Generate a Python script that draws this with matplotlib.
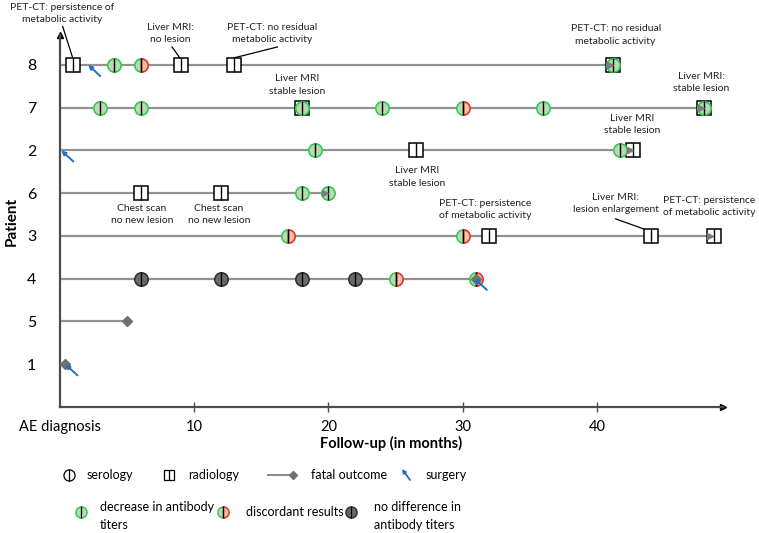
import numpy as np
import matplotlib
matplotlib.use("Agg")
import matplotlib.pyplot as plt
from matplotlib.path import Path

plt.rcParams['font.family'] = ['Lato', 'DejaVu Sans']

# patients, top to bottom, and the y position of each row
patients = [8, 7, 2, 6, 3, 4, 5, 1]
row_y = {8: 8, 7: 7, 2: 6, 6: 5, 3: 4, 4: 3, 5: 2, 1: 1}
# follow-up length (months) of each patient row
follow_end = [41.2, 48, 42.7, 20, 48.7, 31, 5, 0]

# radiology exams
radio_x = [1, 9, 13, 41.2, 18, 48, 26.5, 42.7, 6, 12, 32, 44, 48.7]
radio_p = [8, 8, 8, 8, 7, 7, 2, 2, 6, 6, 3, 3, 3]
# serology: decrease in antibody titers
decr_x = [4, 41.2, 3, 6, 18, 24, 36, 48, 19, 41.7, 18, 20]
decr_p = [8, 8, 7, 7, 7, 7, 7, 7, 2, 2, 6, 6]
# serology: discordant results
disc_x = [6, 30, 17, 30, 25, 31]
disc_p = [8, 7, 3, 3, 4, 4]
# serology: no difference
nodiff_x = [6, 12, 18, 22]
nodiff_p = [4, 4, 4, 4]
# fatal outcome
fatal_x = [31, 5, 0.4]
fatal_p = [4, 5, 1]
# surgery
surg_x = [2.1, 0.1, 30.9, 0.4]
surg_p = [8, 2, 4, 1]

# annotations: text, x, y, optional leader line
notes = [
    ("PET-CT: persistence of\nmetabolic activity", 0.2, 9.2, (0.2, 8.9, 0.97, 8.14)),
    ("Liver MRI:\nno lesion", 8.2, 8.73, (8.35, 8.42, 8.94, 8.16)),
    ("PET-CT: no residual\nmetabolic activity", 15.8, 8.73, (16.2, 8.42, 12.9, 8.16)),
    ("PET-CT: no residual\nmetabolic activity", 41.4, 8.70, None),
    ("Liver MRI\nstable lesion", 17.7, 7.53, None),
    ("Liver MRI:\nstable lesion", 47.8, 7.58, None),
    ("Liver MRI\nstable lesion", 42.6, 6.6, None),
    ("Liver MRI\nstable lesion", 26.6, 5.38, None),
    ("Chest scan\nno new lesion", 6.1, 4.51, None),
    ("Chest scan\nno new lesion", 11.85, 4.51, None),
    ("PET-CT: persistence\nof metabolic activity", 31.7, 4.61, None),
    ("Liver MRI:\nlesion enlargement", 41.4, 4.75, (41.4, 4.40, 43.7, 4.14)),
    ("PET-CT: persistence\nof metabolic activity", 48.35, 4.68, None),
]

GREEN_FC = '#bcd9b0'
GREEN_EC = '#2ecc55'
RED_EC = '#e8302a'
ORANGE_FC = '#efc4a6'
GRAY_FC = '#6a6a6a'
BLUE = '#1f6fc5'
LINE = '#929292'
AX = '#4d4d4d'


def half(a, b):
    arc = Path.arc(a, b)
    v = np.concatenate([arc.vertices, [arc.vertices[0]]])
    c = np.concatenate([arc.codes, [Path.CLOSEPOLY]])
    return Path(v, c)


LEFT = half(90, 270)
RIGHT = half(-90, 90)

fig = plt.figure(figsize=(7.59, 5.33), dpi=100)
ax = fig.add_axes([60 / 759, 126 / 533, 663 / 759, 372 / 533])
ax.set_xlim(0, 49.4)
ax.set_ylim(0, 8.7)

ys = lambda pl: [row_y[p] for p in pl]

for p, e in zip(patients, follow_end):
    if e > 0:
        ax.plot([0, e], [row_y[p]] * 2, color=LINE, lw=1.6, zorder=1)
        if p not in (4, 5):
            ax.plot(e - 0.25, row_y[p], marker='>', ms=4, color='#7a7a7a', zorder=6)

ms = 9.6
ax.plot(radio_x, ys(radio_p), 's', ms=10, mfc='white', mec='black', mew=1.1, ls='none', zorder=3)
ax.plot(radio_x, ys(radio_p), '|', ms=10, mec='black', mew=1.0, ls='none', zorder=3.5)

ax.plot(decr_x, ys(decr_p), 'o', ms=ms, mfc=GREEN_FC, mec=GREEN_EC, mew=1.2, ls='none', zorder=4)
ax.plot(disc_x, ys(disc_p), marker=LEFT, ms=ms, mfc=GREEN_FC, mec=GREEN_EC, mew=1.2, ls='none', zorder=4)
ax.plot(disc_x, ys(disc_p), marker=RIGHT, ms=ms, mfc=ORANGE_FC, mec=RED_EC, mew=1.2, ls='none', zorder=4)
ax.plot(nodiff_x, ys(nodiff_p), 'o', ms=ms, mfc=GRAY_FC, mec='#333333', mew=1.2, ls='none', zorder=4)
sero_x = decr_x + disc_x + nodiff_x
sero_p = decr_p + disc_p + nodiff_p
ax.plot(sero_x, ys(sero_p), '|', ms=ms, mec='black', mew=1.0, ls='none', zorder=5)

ax.plot(fatal_x, ys(fatal_p), 'D', ms=5, color='#707070', ls='none', zorder=6)

for x, p in zip(surg_x, surg_p):
    y = row_y[p]
    ax.annotate('', xy=(x, y), xytext=(x + 0.9, y - 0.26),
                arrowprops=dict(arrowstyle='-|>', color=BLUE, lw=1.4,
                                mutation_scale=6, shrinkA=0, shrinkB=0),
                zorder=7, annotation_clip=False)

for txt, x, y, ln in notes:
    ax.text(x, y, txt, ha='center', va='center', fontsize=7.5,
            linespacing=1.45, color='#222222', clip_on=False)
    if ln:
        ax.plot([ln[0], ln[2]], [ln[1], ln[3]], color='black', lw=0.9,
                clip_on=False, zorder=2)

for s in ['top', 'right']:
    ax.spines[s].set_visible(False)
for s in ['left', 'bottom']:
    ax.spines[s].set_color(AX)
    ax.spines[s].set_linewidth(1.6)
ax.plot(1, 0, '>', ms=5, color='black', transform=ax.transAxes, clip_on=False)
ax.plot(0, 1, '^', ms=5, color='black', transform=ax.transAxes, clip_on=False)

ax.set_xticks([0, 10, 20, 30, 40])
ax.set_xticklabels(['AE diagnosis', '10', '20', '30', '40'], fontsize=10.5)
ax.tick_params(axis='x', direction='inout', length=7, width=1, color=AX, pad=6)
ax.set_yticks([row_y[p] for p in patients])
ax.set_yticklabels([str(p) for p in patients], fontsize=11.5)
ax.tick_params(axis='y', length=0, pad=17)
ax.get_xticklines()[0].set_visible(False)
ax.get_xticklines()[1].set_visible(False)
ax.set_xlabel('Follow-up (in months)', fontsize=10.5, fontweight='bold', labelpad=1)
ax.set_ylabel('Patient', fontsize=11, fontweight='bold', labelpad=6)

# legend drawn in a pixel-coordinate overlay
lg = fig.add_axes([0, 0, 1, 1], zorder=-1)
lg.set_xlim(0, 759)
lg.set_ylim(533, 0)
lg.axis('off')
fs = 9
lg.plot(69, 475, 'o', ms=8, mfc='white', mec='black', mew=0.9)
lg.plot(69, 475, '|', ms=8, mec='black', mew=0.9)
lg.text(87, 475, 'serology', fontsize=fs, va='center')
lg.plot(169, 475, 's', ms=7.5, mfc='white', mec='black', mew=0.9)
lg.plot(169, 475, '|', ms=7.5, mec='black', mew=0.9)
lg.text(188, 475, 'radiology', fontsize=fs, va='center')
lg.plot([268, 293], [475, 475], color='#8c8c8c', lw=1.5)
lg.plot(293, 475, 'D', ms=4.5, color='#707070')
lg.text(311, 475, 'fatal outcome', fontsize=fs, va='center')
lg.annotate('', xy=(402, 469), xytext=(410, 480),
            arrowprops=dict(arrowstyle='-|>', color=BLUE, lw=1.3,
                            mutation_scale=5, shrinkA=0, shrinkB=0))
lg.text(426, 475, 'surgery', fontsize=fs, va='center')

lg.plot(81, 512, 'o', ms=8, mfc=GREEN_FC, mec=GREEN_EC, mew=1.1)
lg.plot(81, 512, '|', ms=8, mec='black', mew=0.9)
lg.text(100, 516, 'decrease in antibody\ntiters', fontsize=fs, va='center', linespacing=1.6)
lg.plot(223, 512, marker=LEFT, ms=8, mfc=GREEN_FC, mec=GREEN_EC, mew=1.1)
lg.plot(223, 512, marker=RIGHT, ms=8, mfc=ORANGE_FC, mec=RED_EC, mew=1.1)
lg.plot(223, 512, '|', ms=8, mec='black', mew=0.9)
lg.text(246, 512, 'discordant results', fontsize=fs, va='center')
lg.plot(351, 512, 'o', ms=8, mfc=GRAY_FC, mec='#333333', mew=1.1)
lg.plot(351, 512, '|', ms=8, mec='black', mew=0.9)
lg.text(374, 516, 'no difference in\nantibody titers', fontsize=fs, va='center', linespacing=1.6)

fig.savefig('out.png', dpi=100)
